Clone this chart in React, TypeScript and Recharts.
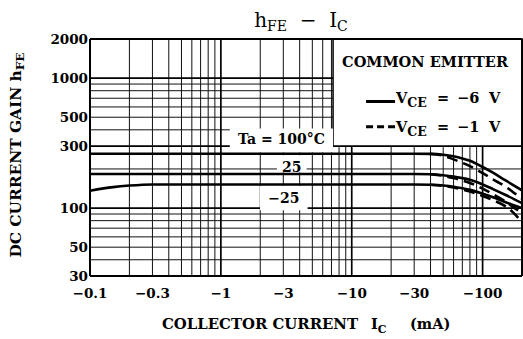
import React from 'react';
import { LineChart, Line, XAxis, YAxis, ReferenceLine, ReferenceArea, CartesianGrid } from 'recharts';

// Collector current (mA, magnitude) for the -6 V curves
const IC_MAIN = [0.1, 0.15, 0.2, 0.3, 0.5, 1, 3, 10, 30, 40, 50, 60, 70, 80, 100, 120, 150, 200];
const HFE_100_6V = [262, 262, 262, 262, 262, 262, 262, 262, 262, 261, 257, 250, 241, 231, 207, 187, 163, 137];
const HFE_25_6V = [183, 183, 183, 183, 183, 183, 183, 183, 183, 182, 179, 175, 170, 165, 152, 140, 126, 109];
const HFE_M25_6V = [136, 145, 149, 152, 152, 152, 152, 152, 152, 151, 149, 146, 142, 138, 129, 121, 111, 100];

// Collector current for the -1 V curves
const IC_DASH = [40, 50, 60, 70, 80, 100, 120, 150, 170, 200];
const HFE_100_1V = [261, 253, 237, 223, 210, 186, 166, 146, 133, 118];
const HFE_25_1V = [182, 177, 170, 163, 156, 141, 128, 112, 102, 92];
const HFE_M25_1V = [151, 148, 144, 139, 134, 124, 115, 103, 93, 78];

const X_TICKS = [0.1, 0.3, 1, 3, 10, 30, 100];
const X_TICK_LABELS = ['\u22120.1', '\u22120.3', '\u22121', '\u22123', '\u221210', '\u221230', '\u2212100'];
const Y_TICKS = [30, 50, 100, 300, 500, 1000, 2000];
const Y_TICK_LABELS = ['30', '50', '100', '300', '500', '1000', '2000'];

const X_GRID_MINOR = [0.2, 0.3, 0.4, 0.5, 0.6, 0.7, 0.8, 0.9, 2, 3, 4, 5, 6, 7, 8, 9, 20, 30, 40, 50, 60, 70, 80, 90];
const Y_GRID_MINOR = [40, 50, 60, 70, 80, 90, 200, 400, 500, 600, 700, 800, 900];
const X_GRID_MAJOR = [1, 10, 100];
const Y_GRID_MAJOR = [100, 300, 1000];

const FONT = '"DejaVu Serif", serif';
const NB = '\u00A0';

const pts = (xs: number[], ys: number[]) => xs.map((x, i) => ({ ic: x, hfe: ys[i] }));

const XTick = (props: any) => {
  const { x, y, payload } = props;
  const i = X_TICKS.indexOf(payload.value);
  return (
    <text x={x} y={y + 20} textAnchor="middle" fontFamily={FONT} fontWeight="bold" fontSize={13.5} fill="#000">
      {X_TICK_LABELS[i]}
    </text>
  );
};

const YTick = (props: any) => {
  const { x, y, payload } = props;
  const i = Y_TICKS.indexOf(payload.value);
  return (
    <text x={x} y={y + 5} textAnchor="end" fontFamily={FONT} fontWeight="bold" fontSize={13.5} fill="#000">
      {Y_TICK_LABELS[i]}
    </text>
  );
};

const VceText = ({ bx, base, volts }: { bx: number; base: number; volts: string }) => (
  <text x={bx + 63} y={base} fontSize={14.5}>
    V<tspan fontSize={12.5} dy={4}>CE</tspan>
    <tspan x={bx + 104} dy={-4}>=</tspan>
    <tspan x={bx + 124}>{'\u2212' + volts}</tspan>
    <tspan x={bx + 156}>V</tspan>
  </text>
);

const LegendContent = (props: any) => {
  const vb = props.viewBox || { x: 0, y: 0 };
  const bx = vb.x;
  const by = vb.y;
  return (
    <g fontFamily={FONT} fontWeight="bold" fill="#000">
      <text x={bx + 9} y={by + 28} fontSize={14.5} textLength={166} lengthAdjust="spacingAndGlyphs">COMMON EMITTER</text>
      <line x1={bx + 33} x2={bx + 62} y1={by + 62.5} y2={by + 62.5} stroke="#000" strokeWidth={3} />
      <VceText bx={bx} base={by + 64} volts="6" />
      <line x1={bx + 33} x2={bx + 62} y1={by + 87.7} y2={by + 87.7} stroke="#000" strokeWidth={3} strokeDasharray="7 4" />
      <VceText bx={bx} base={by + 93} volts="1" />
    </g>
  );
};

const BoxLabel = (props: any) => {
  const vb = props.viewBox || { x: 0, y: 0, width: 0 };
  return (
    <text x={vb.x + vb.width / 2} y={vb.y + props.base} textAnchor="middle" fontFamily={FONT} fontWeight="bold" fontSize={14} fill="#000">
      {props.text}
    </text>
  );
};

export default function App() {
  return (
    <div style={{ position: 'absolute', left: 0, top: 0, width: 523, height: 339, background: '#fff' }}>
      <LineChart width={523} height={339} margin={{ top: 39, right: 1, bottom: 0, left: 0 }}>
        <CartesianGrid verticalValues={X_GRID_MINOR} horizontalValues={Y_GRID_MINOR} stroke="#111" strokeWidth={1} />
        <CartesianGrid verticalValues={X_GRID_MAJOR} horizontalValues={Y_GRID_MAJOR} stroke="#000" strokeWidth={1.7} />
        <XAxis
          type="number"
          dataKey="ic"
          scale="log"
          domain={[0.1, 200]}
          allowDataOverflow
          ticks={X_TICKS}
          tick={<XTick />}
          tickSize={0}
          tickLine={false}
          axisLine={false}
          height={63}
          interval={0}
        />
        <YAxis
          type="number"
          dataKey="hfe"
          scale="log"
          domain={[30, 2000]}
          allowDataOverflow
          ticks={Y_TICKS}
          tick={<YTick />}
          tickSize={0}
          tickMargin={2}
          tickLine={false}
          axisLine={false}
          width={90}
          interval={0}
        />
        <ReferenceArea x1={7.2} x2={200} y1={300} y2={2000} fill="#fff" fillOpacity={1} stroke="#000" strokeWidth={1.5} label={<LegendContent />} />
        <ReferenceArea x1={1.17} x2={7.2} y1={268} y2={410} fill="#fff" fillOpacity={1} stroke="none" label={<BoxLabel text={'Ta = 100\u00B0C'} base={16} />} />
        <ReferenceArea x1={2.68} x2={4.52} y1={188} y2={255} fill="#fff" fillOpacity={1} stroke="none" label={<BoxLabel text="25" base={17} />} />
        <ReferenceArea x1={1.99} x2={4.6} y1={96} y2={148} fill="#fff" fillOpacity={1} stroke="none" label={<BoxLabel text={'\u221225'} base={17.5} />} />
        <ReferenceLine x={0.1} stroke="#000" strokeWidth={2} />
        <ReferenceLine x={200} stroke="#000" strokeWidth={2} />
        <ReferenceLine y={30} stroke="#000" strokeWidth={2} />
        <ReferenceLine y={2000} stroke="#000" strokeWidth={2} />
        <Line data={pts(IC_MAIN, HFE_100_6V)} dataKey="hfe" type="monotone" stroke="#000" strokeWidth={2.6} dot={false} isAnimationActive={false} />
        <Line data={pts(IC_MAIN, HFE_25_6V)} dataKey="hfe" type="monotone" stroke="#000" strokeWidth={2.6} dot={false} isAnimationActive={false} />
        <Line data={pts(IC_MAIN, HFE_M25_6V)} dataKey="hfe" type="monotone" stroke="#000" strokeWidth={2.6} dot={false} isAnimationActive={false} />
        <Line data={pts(IC_DASH, HFE_100_1V)} dataKey="hfe" type="monotone" stroke="#000" strokeWidth={2.6} strokeDasharray="11 6" dot={false} isAnimationActive={false} />
        <Line data={pts(IC_DASH, HFE_25_1V)} dataKey="hfe" type="monotone" stroke="#000" strokeWidth={2.6} strokeDasharray="11 6" dot={false} isAnimationActive={false} />
        <Line data={pts(IC_DASH, HFE_M25_1V)} dataKey="hfe" type="monotone" stroke="#000" strokeWidth={2.6} strokeDasharray="11 6" dot={false} isAnimationActive={false} />
      </LineChart>
      <svg width={523} height={339} style={{ position: 'absolute', left: 0, top: 0, pointerEvents: 'none' }}>
        <text x={301} y={27} textAnchor="middle" fontFamily={FONT} fontSize={20} fill="#000">
          h<tspan fontSize={14} dy={4}>FE</tspan><tspan dy={-4}>{NB + NB + '\u2212' + NB + NB + 'I'}</tspan><tspan fontSize={14} dy={4}>C</tspan>
        </text>
        <text transform="translate(21,155) rotate(-90)" textAnchor="middle" fontFamily={FONT} fontWeight="bold" fontSize={14} fill="#000" textLength={205} lengthAdjust="spacingAndGlyphs">
          DC CURRENT GAIN h<tspan fontSize={11} dy={3}>FE</tspan>
        </text>
        <g fontFamily={FONT} fontWeight="bold" fontSize={14.5} fill="#000">
          <text x={162} y={329} textLength={196} lengthAdjust="spacingAndGlyphs">COLLECTOR CURRENT</text>
          <text x={371} y={329}>I<tspan fontSize={11} dy={4}>C</tspan></text>
          <text x={410} y={329}>(mA)</text>
        </g>
      </svg>
    </div>
  );
}
